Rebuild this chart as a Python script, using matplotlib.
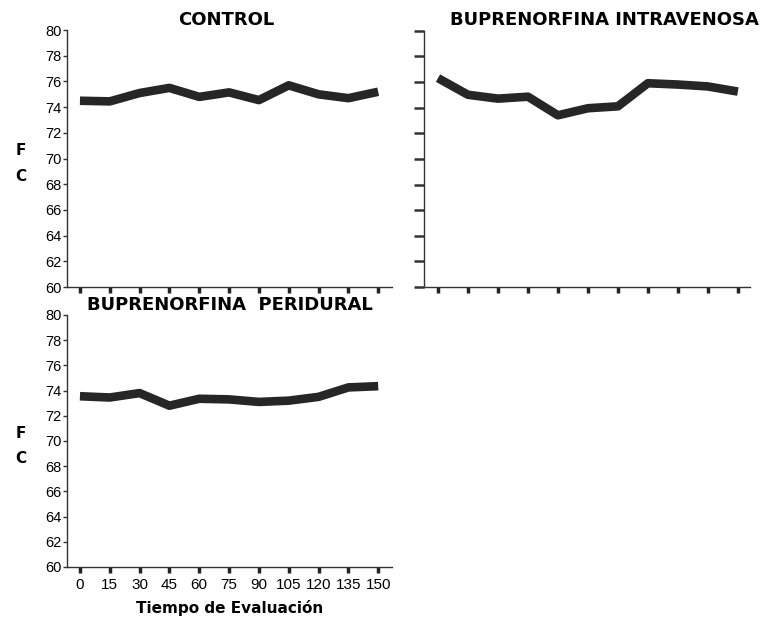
import matplotlib
matplotlib.use("Agg")
import matplotlib.pyplot as plt

plt.rcParams['font.family'] = ['Liberation Sans', 'DejaVu Sans']

tiempo = [0, 15, 30, 45, 60, 75, 90, 105, 120, 135, 150]
control = [74.5, 74.45, 75.1, 75.5, 74.8, 75.15, 74.55, 75.7, 75.0, 74.7, 75.2]
intravenosa = [76.3, 75.0, 74.7, 74.85, 73.4, 73.95, 74.1, 75.9, 75.8, 75.65, 75.25]
peridural = [73.55, 73.45, 73.8, 72.8, 73.35, 73.3, 73.1, 73.2, 73.5, 74.25, 74.35]
yticks = [60, 62, 64, 66, 68, 70, 72, 74, 76, 78, 80]
titles = ["CONTROL", "BUPRENORFINA INTRAVENOSA", "BUPRENORFINA  PERIDURAL"]

fig = plt.figure(figsize=(7.74, 6.2), dpi=100)
ax1 = fig.add_axes([0.0866, 0.537, 0.42, 0.4145])
ax2 = fig.add_axes([0.5478, 0.537, 0.421, 0.4135])
ax3 = fig.add_axes([0.0866, 0.0855, 0.42, 0.4065])

line_color = '#262626'
for ax, data in zip([ax1, ax2, ax3], [control, intravenosa, peridural]):
    ax.plot(tiempo, data, color=line_color, lw=6.2, solid_joinstyle='round',
            solid_capstyle='butt')
    ax.set_ylim(60, 80)
    ax.set_yticks(yticks)
    ax.set_xticks(tiempo)
    for s in ['top', 'right']:
        ax.spines[s].set_visible(False)
    for s in ['left', 'bottom']:
        ax.spines[s].set_color('#333333')
        ax.spines[s].set_linewidth(1.0)
    ax.tick_params(axis='x', direction='out', length=4, width=2.5, color='#222222',
                   labelsize=11, pad=4)
    ax.tick_params(axis='y', direction='out', length=3, width=1.0, color='#333333',
                   labelsize=10.5, pad=1)

ax1.set_xlim(-6.5, 157)
ax3.set_xlim(-6.5, 157)
ax2.set_xlim(-7, 156)

ax1.tick_params(axis='x', labelbottom=False)
ax2.tick_params(axis='x', labelbottom=False)
ax2.tick_params(axis='y', labelleft=False, length=7, width=1.8)

title_kw = dict(fontsize=13, fontweight='heavy', family=['DejaVu Sans'])
ax1.set_title(titles[0], pad=4, x=0.49, **title_kw)
ax2.set_title(titles[1], pad=4, x=0.555, **title_kw)
ax3.text(0.5, 1.005, titles[2], transform=ax3.transAxes, ha='center', va='bottom',
         **title_kw)

for ax in [ax1, ax3]:
    ax.text(-0.142, 0.48, "F\nC", transform=ax.transAxes, ha='center', va='center',
            fontsize=11, fontweight='heavy', family=['DejaVu Sans'], linespacing=1.9)

ax3.set_xlabel("Tiempo de Evaluación", fontsize=11, fontweight='heavy',
               family=['DejaVu Sans'], labelpad=6)

fig.savefig("out.png", dpi=100)
